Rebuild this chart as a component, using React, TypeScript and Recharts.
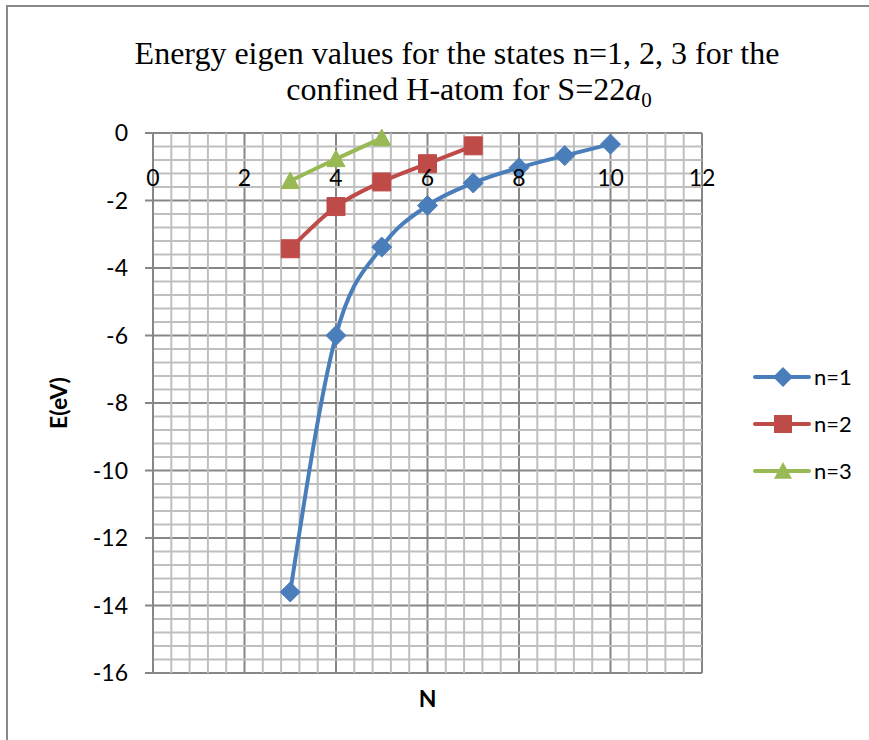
import React from "react";
import { LineChart, Line, XAxis, YAxis, CartesianGrid, ReferenceLine } from "recharts";

const N_VALUES = [3, 4, 5, 6, 7, 8, 9, 10];
const N1 = [-13.6, -6.0, -3.38, -2.15, -1.48, -1.03, -0.67, -0.33];
const N2 = [-3.43, -2.18, -1.45, -0.91, -0.38];
const N3 = [-1.42, -0.77, -0.15];

const X_TICKS = [0, 2, 4, 6, 8, 10, 12];
const Y_TICKS = [0, -2, -4, -6, -8, -10, -12, -14, -16];

// minor grid every 0.4 (5 per major step), majors left to CartesianGrid
const MINOR_X = Array.from({ length: 31 }, (_, i) => i).filter(i => i % 5 !== 0).map(i => +(i * 0.4).toFixed(2));
const MINOR_Y = Array.from({ length: 41 }, (_, i) => i).filter(i => i % 5 !== 0).map(i => -+(i * 0.4).toFixed(2));

const BLUE = "#4A7EBB";
const RED = "#BE4B48";
const GREEN = "#98B954";

const data = N_VALUES.map((n, i) => ({
  n,
  n1: N1[i],
  n2: i < N2.length ? N2[i] : null,
  n3: i < N3.length ? N3[i] : null,
}));

const FONT = "Lato, 'Open Sans', sans-serif";

function diamond(cx: number, cy: number, r: number) {
  return `M${cx},${cy - r}L${cx + r},${cy}L${cx},${cy + r}L${cx - r},${cy}Z`;
}
function square(cx: number, cy: number, r: number) {
  return `M${cx - r},${cy - r}h${2 * r}v${2 * r}h${-2 * r}Z`;
}
function triangle(cx: number, cy: number, r: number) {
  return `M${cx},${cy - r}L${cx + r},${cy + r * 0.85}L${cx - r},${cy + r * 0.85}Z`;
}

const makeDot = (shape: (cx: number, cy: number, r: number) => string, color: string, r: number) =>
  (props: any) => {
    const { cx, cy, index } = props;
    if (cx == null || cy == null || props.value == null) return <g key={`d${index}`} />;
    return <path key={`d${index}`} d={shape(cx, cy, r)} fill={color} stroke={color} strokeWidth={1} />;
  };

const SERIES = [
  { key: "n1", name: "n=1", color: BLUE, shape: diamond, r: 10 },
  { key: "n2", name: "n=2", color: RED, shape: square, r: 9 },
  { key: "n3", name: "n=3", color: GREEN, shape: triangle, r: 9 },
];

const XTick = (props: any) => {
  const { x, payload } = props;
  return (
    <text x={x} y={186} textAnchor="middle" fontSize={23} fill="#000" fontFamily={FONT}>
      {payload.value}
    </text>
  );
};

const LegendBox = () => (
  <div style={{ position: "absolute", left: 753, top: 353, fontFamily: FONT, fontSize: 22 }}>
    {SERIES.map(s => (
      <div key={s.key} style={{ display: "flex", alignItems: "center", height: 47 }}>
        <svg width={58} height={24}>
          <line x1={2} y1={12} x2={56} y2={12} stroke={s.color} strokeWidth={4} strokeLinecap="round" />
          <path d={s.shape(30, 12, s.r)} fill={s.color} />
        </svg>
        <span style={{ marginLeft: 3 }}>{s.name}</span>
      </div>
    ))}
  </div>
);

export default function App() {
  return (
    <div style={{ position: "absolute", left: 0, top: 0, width: 869, height: 740, overflow: "hidden", background: "#fff" }}>
      <div style={{ position: "absolute", left: 6, top: 5, width: 950, height: 850, border: "2px solid #898989" }} />
      <div
        style={{
          position: "absolute",
          left: 0,
          top: 35,
          width: 914,
          textAlign: "center",
          fontFamily: "'Liberation Serif', 'Times New Roman', serif",
          fontSize: 32,
          lineHeight: "36px",
          color: "#000",
        }}
      >
        <div>Energy eigen values for the states n=1, 2, 3 for the</div>
        <div style={{ paddingLeft: 24 }}>
          confined H-atom for S=22<i>a</i>
          <sub style={{ fontSize: 21, lineHeight: 0 }}>0</sub>
        </div>
      </div>
      <div style={{ position: "absolute", left: 0, top: 0 }}>
        <LineChart width={869} height={740} data={data} margin={{ top: 133, right: 167, bottom: 27, left: 43 }}>
          {MINOR_X.map(v => (
            <ReferenceLine key={`mx${v}`} x={v} stroke="#bfbfbf" strokeWidth={2} />
          ))}
          {MINOR_Y.map(v => (
            <ReferenceLine key={`my${v}`} y={v} stroke="#bfbfbf" strokeWidth={2} />
          ))}
          <CartesianGrid stroke="#878787" strokeWidth={2} />
          <XAxis
            dataKey="n"
            type="number"
            domain={[0, 12]}
            ticks={X_TICKS}
            interval={0}
            axisLine={false}
            tickLine={false}
            tick={<XTick />}
            height={40}
            label={{ value: "N", position: "insideBottom", offset: 6, fontSize: 23, fontWeight: "bold", fill: "#000", fontFamily: FONT }}
          />
          <YAxis
            type="number"
            domain={[-16, 0]}
            ticks={Y_TICKS}
            interval={0}
            width={110}
            axisLine={{ stroke: "#878787", strokeWidth: 2 }}
            tickLine={{ stroke: "#878787", strokeWidth: 2 }}
            tickSize={8}
            tickMargin={17}
            tick={{ fontSize: 23, fill: "#000", fontFamily: FONT }}
            label={{ value: "E(eV)", angle: -90, position: "insideLeft", offset: 16, fontSize: 23, fontWeight: "bold", fill: "#000", fontFamily: FONT, style: { textAnchor: "middle" } }}
          />
          {SERIES.map(s => (
            <Line
              key={s.key}
              dataKey={s.key}
              name={s.name}
              type="monotone"
              stroke={s.color}
              strokeWidth={4}
              dot={makeDot(s.shape, s.color, s.r)}
              activeDot={false}
              connectNulls={false}
              isAnimationActive={false}
            />
          ))}
        </LineChart>
      </div>
      <LegendBox />
    </div>
  );
}
